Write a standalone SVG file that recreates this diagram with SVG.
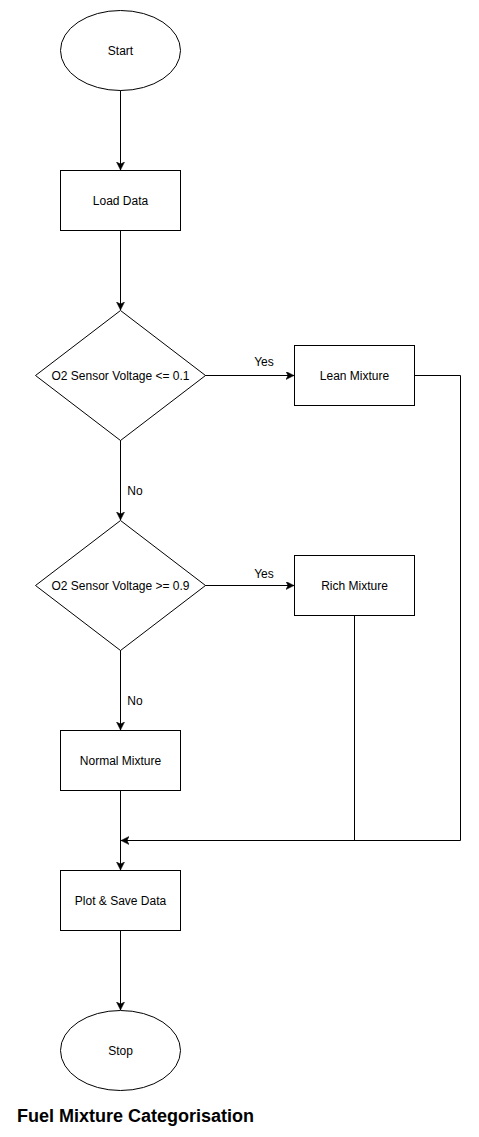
<svg xmlns="http://www.w3.org/2000/svg" width="479" height="1137" viewBox="0 0 479 1137">
<style>
.s{fill:#fff;stroke:#000;stroke-width:1}
.t{font-family:"Liberation Sans",Arial,sans-serif;font-size:12px;fill:#000;text-anchor:middle;dominant-baseline:central}
.l{font-family:"Liberation Sans",Arial,sans-serif;font-size:12px;fill:#000;text-anchor:middle}
.c{fill:none;stroke:#000;stroke-width:1}
</style>
<defs>
<marker id="a" markerWidth="10" markerHeight="10" refX="8" refY="4" orient="auto" markerUnits="userSpaceOnUse">
<path d="M0,0 L8,4 L0,8 L2,4 Z" fill="#000" stroke="#000" stroke-width="0.5"/>
</marker>
</defs>
<rect width="479" height="1137" fill="#fff"/>
<g id="connectors">
<path class="c" d="M120.5,90 V170" marker-end="url(#a)"/>
<path class="c" d="M120.5,230 V310" marker-end="url(#a)"/>
<path class="c" d="M205,375.5 H294" marker-end="url(#a)"/>
<path class="c" d="M120.5,440 V520" marker-end="url(#a)"/>
<path class="c" d="M205,585.5 H294" marker-end="url(#a)"/>
<path class="c" d="M120.5,650 V730" marker-end="url(#a)"/>
<path class="c" d="M120.5,790 V870" marker-end="url(#a)"/>
<path class="c" d="M414,375.5 H460.5 V840.5 H121" marker-end="url(#a)"/>
<path class="c" d="M354.5,615 V840.5"/>
<path class="c" d="M120.5,930 V1010" marker-end="url(#a)"/>
<text class="l" x="264" y="366">Yes</text>
<text class="l" x="135" y="495">No</text>
<text class="l" x="264" y="578">Yes</text>
<text class="l" x="135" y="705">No</text>
</g>
<g id="start"><ellipse class="s" cx="120.5" cy="50.5" rx="60" ry="40"/><text class="t" x="120.5" y="50.5">Start</text></g>
<g id="load"><rect class="s" x="60.5" y="170.5" width="120" height="60"/><text class="t" x="120.5" y="200.5">Load Data</text></g>
<g id="dec1"><path class="s" d="M120.5,310.5 L205.5,375.5 L120.5,440.5 L35.5,375.5 Z"/><text class="t" x="120.5" y="375.5">O2 Sensor Voltage &lt;= 0.1</text></g>
<g id="lean"><rect class="s" x="294.5" y="345.5" width="120" height="60"/><text class="t" x="354.5" y="375.5">Lean Mixture</text></g>
<g id="dec2"><path class="s" d="M120.5,520.5 L205.5,585.5 L120.5,650.5 L35.5,585.5 Z"/><text class="t" x="120.5" y="585.5">O2 Sensor Voltage &gt;= 0.9</text></g>
<g id="rich"><rect class="s" x="294.5" y="555.5" width="120" height="60"/><text class="t" x="354.5" y="585.5">Rich Mixture</text></g>
<g id="normal"><rect class="s" x="60.5" y="730.5" width="120" height="60"/><text class="t" x="120.5" y="760.5">Normal Mixture</text></g>
<g id="plot"><rect class="s" x="60.5" y="870.5" width="120" height="60"/><text class="t" x="120.5" y="900.5">Plot &amp; Save Data</text></g>
<g id="stop"><ellipse class="s" cx="120.5" cy="1050.5" rx="60" ry="40"/><text class="t" x="120.5" y="1050.5">Stop</text></g>
<text id="title" x="17" y="1122" font-family="'Liberation Sans',Arial,sans-serif" font-size="18" font-weight="bold" fill="#000">Fuel Mixture Categorisation</text>
</svg>
